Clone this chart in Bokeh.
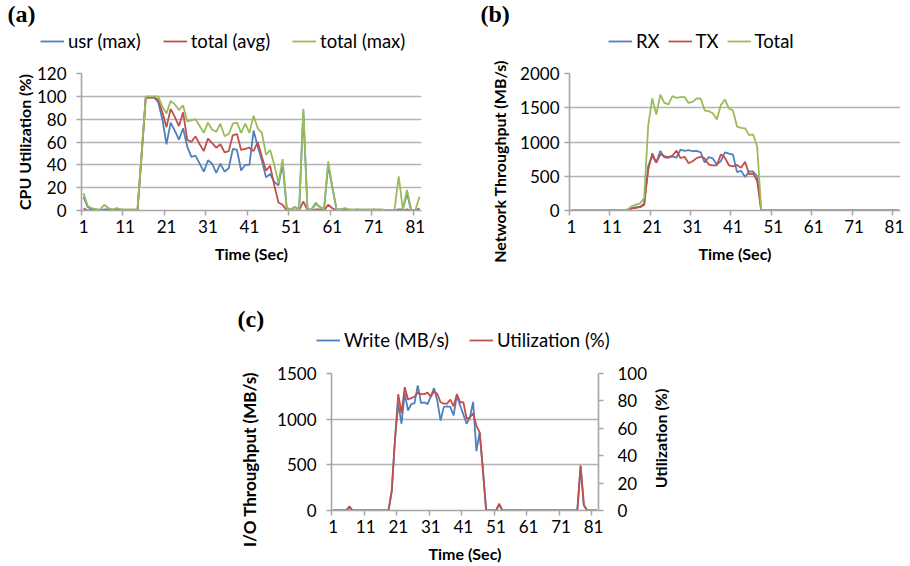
import math
from bokeh.plotting import figure
from bokeh.models import Range1d, FixedTicker, Legend, LegendItem, LinearAxis, Spacer, Label
from bokeh.layouts import column, row
from bokeh.embed import file_html
from bokeh.resources import INLINE

# ---------------- data ----------------
time_sec = list(range(1, 83))
x_tick_labels = ["1", "11", "21", "31", "41", "51", "61", "71", "81"]

# (a) CPU utilization (%)
cpu_usr_max = [12, 3, 1, 1, 0, 1, 1, 0, 1, 1, 0, 0, 0, 0, 50, 99, 99, 99, 95, 80,
               58, 77, 70, 62, 72, 56, 47, 48, 41, 34, 44, 41, 33, 41, 34, 37, 54, 53, 35, 40,
               40, 70, 56, 44, 29, 32, 25, 22, 41, 2, 1, 3, 1, 87, 1, 1, 6, 3, 1, 40,
               20, 1, 1, 1, 0, 0, 1, 0, 0, 0, 1, 0, 0, 0, 0, 0, 1, 1, 15, 0,
               0, 2]
cpu_total_avg = [2, 0, 0, 0, 0, 0, 0, 0, 0, 0, 0, 0, 0, 0, 48, 99, 99, 99, 97, 86,
                 73, 89, 82, 74, 86, 62, 60, 65, 58, 52, 63, 59, 55, 58, 51, 52, 66, 67, 53, 54,
                 55, 52, 60, 47, 35, 39, 22, 7, 5, 0, 0, 0, 0, 8, 0, 0, 1, 1, 0, 5,
                 2, 0, 0, 0, 0, 0, 0, 0, 0, 0, 0, 0, 0, 0, 0, 0, 0, 0, 1, 0,
                 0, 1]
cpu_total_max = [15, 4, 2, 1, 1, 5, 2, 1, 2, 1, 1, 1, 1, 1, 50, 100, 100, 100, 100, 91,
                 85, 96, 93, 88, 92, 78, 79, 80, 74, 68, 77, 71, 69, 76, 65, 67, 76, 77, 68, 76,
                 68, 83, 72, 68, 49, 53, 40, 24, 45, 2, 1, 3, 1, 89, 1, 1, 7, 3, 1, 43,
                 21, 1, 1, 2, 1, 1, 1, 1, 1, 1, 1, 1, 1, 0, 0, 1, 30, 1, 18, 1,
                 0, 12]
cpu_ticks = [0, 20, 40, 60, 80, 100, 120]

# (b) Network throughput (MB/s)
net_rx = [2, 2, 2, 2, 2, 2, 2, 2, 2, 3, 3, 2, 2, 2, 10, 35, 45, 55, 100, 650,
          800, 700, 870, 775, 770, 790, 770, 890, 870, 880, 865, 870, 850, 700, 780, 760, 670, 720, 850, 830,
          815, 560, 580, 490, 570, 570, 500, 0, 1, 1, 1, 1, 1, 1, 1, 1, 1, 1, 1, 1,
          1, 1, 1, 1, 1, 1, 1, 1, 1, 1, 1, 1, 1, 1, 1, 1, 1, 1, 1, 1,
          1, 1]
net_tx = [2, 2, 2, 2, 2, 2, 2, 2, 2, 3, 3, 2, 2, 2, 10, 30, 40, 50, 80, 590,
          836, 700, 820, 795, 780, 800, 875, 765, 785, 690, 720, 765, 785, 760, 670, 660, 660, 820, 770, 660,
          645, 665, 625, 710, 530, 540, 430, 0, 1, 1, 1, 1, 1, 1, 1, 1, 1, 1, 1, 1,
          1, 1, 1, 1, 1, 1, 1, 1, 1, 1, 1, 1, 1, 1, 1, 1, 1, 1, 1, 1,
          1, 1]
net_total = [4, 4, 4, 4, 4, 4, 4, 4, 4, 6, 6, 4, 4, 4, 20, 65, 85, 105, 180, 1240,
             1636, 1400, 1690, 1570, 1550, 1670, 1645, 1655, 1655, 1570, 1585, 1635, 1635, 1460, 1450, 1420, 1330, 1540, 1620, 1490,
             1460, 1225, 1205, 1200, 1100, 1110, 930, 5, 2, 2, 2, 2, 2, 2, 2, 2, 2, 2, 2, 2,
             2, 2, 2, 2, 2, 2, 2, 2, 2, 2, 2, 2, 2, 2, 2, 2, 2, 2, 2, 2,
             2, 2]
net_ticks = [0, 500, 1000, 1500, 2000]

# (c) I/O throughput (MB/s) and utilization (%)
io_write = [0, 0, 0, 0, 0, 30, 0, 0, 0, 0, 0, 0, 0, 0, 0, 0, 0, 0, 200, 780,
            1170, 950, 1285, 1095, 1165, 1175, 1370, 1175, 1185, 1165, 1250, 1340, 1200, 985, 1135, 1140, 1135, 1040, 1260, 1150,
            1050, 950, 1020, 1190, 650, 860, 440, 0, 0, 0, 0, 60, 0, 0, 0, 0, 0, 0, 0, 0,
            0, 0, 0, 0, 0, 0, 0, 0, 0, 0, 0, 0, 0, 0, 0, 0, 480, 60, 0, 0,
            0, 0]
io_util = [0, 0, 0, 0, 0, 3, 0, 0, 0, 0, 0, 0, 0, 0, 0, 0, 0, 0, 15, 52,
           85, 71, 90, 81, 82, 83, 86, 85, 85, 86, 83, 87, 85, 79, 78, 78, 81, 76, 85, 79,
           79, 67, 68, 71, 62, 57, 30, 0, 0, 0, 0, 5, 0, 0, 0, 0, 0, 0, 0, 0,
           0, 0, 0, 0, 0, 0, 0, 0, 0, 0, 0, 0, 0, 0, 0, 0, 33, 4, 0, 0,
           0, 0]
io_ticks = [0, 500, 1000, 1500]
util_ticks = [0, 20, 40, 60, 80, 100]

# ---------------- style ----------------
BLUE, RED, GREEN = "#4F81BD", "#C0504D", "#9BBB59"
GRID = "#b3b3b3"
AXIS = "#a6a6a6"
FONT = "Lato"
LW = 1.8
major_x = [1, 11, 21, 31, 41, 51, 61, 71, 81]
minor_x = [0.5, 10.5, 20.5, 30.5, 40.5, 50.5, 60.5, 70.5, 80.5]


def no_align(p):
    if "frame_align" in p.properties():
        p.frame_align = False


def style_y_axis(ax, ticks, title, standoff, title_standoff):
    ax.ticker = FixedTicker(ticks=ticks)
    ax.major_tick_out = 5
    ax.major_tick_in = 0
    ax.minor_tick_out = 0
    ax.minor_tick_in = 0
    ax.major_tick_line_color = AXIS
    ax.major_tick_line_width = 1.5
    ax.axis_line_color = AXIS
    ax.axis_line_width = 1.6
    ax.major_label_text_font = FONT
    ax.major_label_text_font_size = "17px"
    ax.major_label_text_color = "black"
    ax.major_label_standoff = standoff
    ax.axis_label = title
    ax.axis_label_text_font = FONT
    ax.axis_label_text_font_style = "bold"
    ax.axis_label_text_font_size = "16px"
    ax.axis_label_text_color = "black"
    ax.axis_label_standoff = title_standoff


def make_panel(width, height, borders, y_max, y_ticks, y_title,
               y_label_standoff, y_title_standoff):
    left, right, top, bottom = borders
    p = figure(width=width, height=height, output_backend="svg", toolbar_location=None,
               title=None, x_range=Range1d(0.5, 82.5), y_range=Range1d(0, y_max),
               min_border_left=left, min_border_right=right,
               min_border_top=top, min_border_bottom=bottom)
    no_align(p)
    p.outline_line_color = None
    p.background_fill_color = "white"
    p.border_fill_color = "white"
    p.xgrid.visible = False
    p.ygrid.ticker = FixedTicker(ticks=y_ticks)
    p.ygrid.grid_line_color = GRID
    p.ygrid.grid_line_width = 1.7

    xa = p.xaxis[0]
    xa.ticker = FixedTicker(ticks=major_x, minor_ticks=minor_x)
    xa.major_label_overrides = {t: s for t, s in zip(major_x, x_tick_labels)}
    xa.major_tick_out = 0
    xa.major_tick_in = 0
    xa.minor_tick_out = 5
    xa.minor_tick_in = 0
    xa.minor_tick_line_color = AXIS
    xa.minor_tick_line_width = 1.5
    xa.axis_line_color = AXIS
    xa.axis_line_width = 1.6
    xa.major_label_text_font = FONT
    xa.major_label_text_font_size = "17px"
    xa.major_label_text_color = "black"
    xa.major_label_standoff = 4
    xa.axis_label = "Time (Sec)"
    xa.axis_label_text_font = FONT
    xa.axis_label_text_font_style = "bold"
    xa.axis_label_text_font_size = "16px"
    xa.axis_label_text_color = "black"
    xa.axis_label_standoff = 8

    style_y_axis(p.yaxis[0], y_ticks, y_title, y_label_standoff, y_title_standoff)
    return p


def blank(width, height):
    h = figure(width=width, height=height, output_backend="svg", toolbar_location=None,
               title=None, x_range=Range1d(0, 1), y_range=Range1d(0, 1),
               x_axis_location=None, y_axis_location=None, min_border=0)
    no_align(h)
    h.outline_line_color = None
    h.background_fill_color = "white"
    h.border_fill_color = "white"
    h.grid.visible = False
    return h


def add_letter(h, letter, x, y):
    h.add_layout(Label(x=x, y=y, x_units="screen", y_units="screen", text=letter,
                       text_font="Liberation Serif", text_font_style="bold",
                       text_font_size="24px", text_baseline="top", text_align="left",
                       text_color="black"))


def add_vtitle(h, text, x, y, size="16px"):
    h.add_layout(Label(x=x, y=y, x_units="screen", y_units="screen", text=text,
                       angle=math.pi / 2, text_font=FONT, text_font_style="bold",
                       text_font_size=size, text_align="center", text_baseline="middle",
                       text_color="black"))


def add_legend(h, entries, xy, spacing):
    items = []
    for lab, col in entries:
        r = h.line(x=[float("nan")], y=[float("nan")], line_color=col, line_width=LW)
        items.append(LegendItem(label=lab, renderers=[r]))
    leg = Legend(items=items, location=xy, orientation="horizontal",
                 padding=0, margin=0, spacing=spacing, glyph_width=24, glyph_height=20,
                 label_standoff=4, label_text_font=FONT, label_text_font_size="18.5px",
                 label_text_color="black", border_line_color=None,
                 background_fill_alpha=0)
    h.add_layout(leg)


# (a)
ha = blank(478, 58)
add_letter(ha, "(a)", 7, 58)
add_legend(ha, [("usr (max)", BLUE), ("total (avg)", RED), ("total (max)", GREEN)], (40, 6), 22)
pa = make_panel(478, 245, (81, 57, 15, 93), 120, cpu_ticks, "CPU Utilization (%)", 10, 0)
pa.line(time_sec, cpu_usr_max, line_color=BLUE, line_width=LW)
pa.line(time_sec, cpu_total_avg, line_color=RED, line_width=LW)
pa.line(time_sec, cpu_total_max, line_color=GREEN, line_width=LW)

# (b)
sb = blank(32, 303)
add_letter(sb, "(b)", 2, 303)
add_vtitle(sb, "Network Throughput (MB/s)", 20.5, 142)
hb = blank(399, 58)
add_legend(hb, [("RX", BLUE), ("TX", RED), ("Total", GREEN)], (98, 6), 8)
pb = make_panel(399, 245, (59, 9, 15, 93), 2000, net_ticks, None, 5, 0)
pb.line(time_sec, net_rx, line_color=BLUE, line_width=LW)
pb.line(time_sec, net_tx, line_color=RED, line_width=LW)
pb.line(time_sec, net_total, line_color=GREEN, line_width=LW)

# (c)
scl = blank(40, 262)
add_letter(scl, "(c)", 7, 260)
add_vtitle(scl, "I/O Throughput (MB/s)", 19, 106, "17px")
hc = blank(382, 53)
add_legend(hc, [("Write (MB/s)", BLUE), ("Utilization (%)", RED)], (46, 5), 20)
pc = make_panel(382, 209, (61, 54, 17, 55), 1500, io_ticks, None, 10, 0)
pc.extra_y_ranges = {"util": Range1d(0, 100)}
ra = LinearAxis(y_range_name="util")
style_y_axis(ra, util_ticks, None, 14, 0)
pc.add_layout(ra, "right")
pc.line(time_sec, io_write, line_color=BLUE, line_width=LW)
pc.line(time_sec, io_util, line_color=RED, line_width=LW, y_range_name="util")
scr = blank(28, 262)
add_vtitle(scr, "Utilization (%)", 8, 127)

layout = column(row(column(ha, pa), sb, column(hb, pb)),
                row(Spacer(width=230, height=262), scl, column(hc, pc), scr))

open("out.html", "w").write(file_html(layout, INLINE))
